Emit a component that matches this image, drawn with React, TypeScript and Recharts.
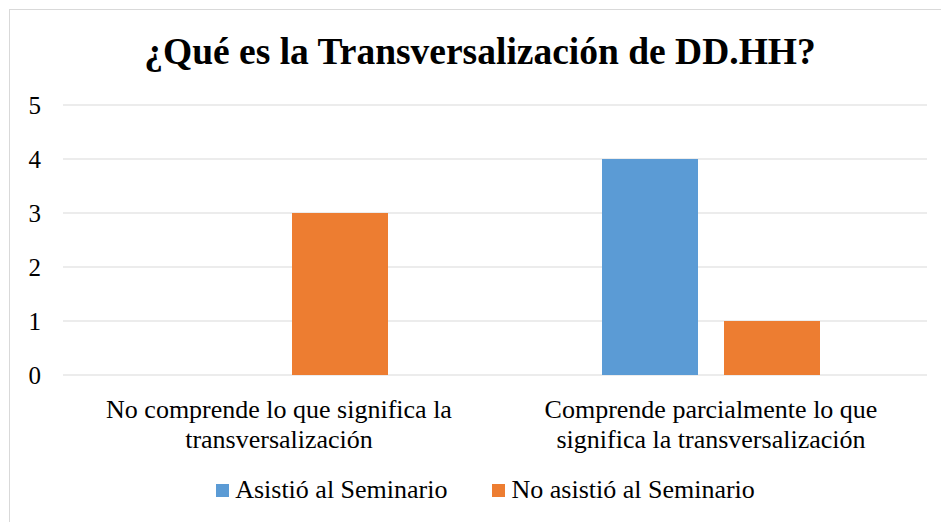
import { BarChart, Bar, XAxis, YAxis, CartesianGrid } from "recharts";

const categories = [
  "No comprende lo que significa la transversalización",
  "Comprende parcialmente lo que significa la transversalización",
];
const categoryLines = [
  ["No comprende lo que significa la", "transversalización"],
  ["Comprende parcialmente lo que", "significa la transversalización"],
];
const asistio = [0, 4];
const noAsistio = [3, 1];
const yTicks = [0, 1, 2, 3, 4, 5];

const seriesNames = ["Asistió al Seminario", "No asistió al Seminario"];
const colors = ["#5B9BD5", "#ED7D31"];

const data = categories.map((c, i) => ({
  name: c,
  asistio: asistio[i],
  noAsistio: noAsistio[i],
}));

const FONT = '"Liberation Serif", "Times New Roman", serif';

function CategoryTick(props: any) {
  const { x, y, index } = props;
  const lines = categoryLines[index] || [];
  return (
    <text x={x} y={y} textAnchor="middle" fill="#000" fontSize={26} fontFamily={FONT}>
      {lines.map((l, i) => (
        <tspan key={i} x={x} y={y + 41 + i * 30}>
          {l}
        </tspan>
      ))}
    </text>
  );
}

function ChartLegend() {
  return (
    <div
      style={{
        position: "absolute",
        left: 0,
        top: 475,
        width: 971,
        display: "flex",
        justifyContent: "center",
        alignItems: "center",
        fontFamily: FONT,
        fontSize: 26,
        lineHeight: "30px",
        color: "#000",
      }}
    >
      {seriesNames.map((n, i) => (
        <div key={n} style={{ display: "flex", alignItems: "center", marginLeft: i ? 45 : 0 }}>
          <span style={{ width: 13, height: 13, background: colors[i], display: "inline-block", marginRight: 6 }} />
          <span>{n}</span>
        </div>
      ))}
    </div>
  );
}

export default function App() {
  return (
    <div style={{ position: "absolute", left: 0, top: 0, width: 941, height: 522, overflow: "hidden", background: "#fff" }}>
      <div style={{ position: "absolute", left: 9, top: 9, width: 960, height: 540, border: "1px solid #d9d9d9" }} />
      <div
        style={{
          position: "absolute",
          left: 0,
          top: 30,
          width: 960,
          textAlign: "center",
          fontFamily: FONT,
          fontWeight: "bold",
          fontSize: 37.5,
          lineHeight: "44px",
          color: "#000",
        }}
      >
        ¿Qué es la Transversalización de DD.HH?
      </div>
      <div style={{ position: "absolute", left: 0, top: 0 }}>
        <BarChart
          width={941}
          height={522}
          data={data}
          margin={{ top: 105, right: 14, bottom: 0, left: 0 }}
          barGap={26}
        >
          <CartesianGrid vertical={false} stroke="#d9d9d9" strokeWidth={1} />
          <XAxis dataKey="name" axisLine={false} tickLine={false} tickSize={0} interval={0} height={147} tick={<CategoryTick />} />
          <YAxis
            domain={[0, 5]}
            ticks={yTicks}
            interval={0}
            width={63}
            axisLine={false}
            tickLine={false}
            tickSize={0}
            tickMargin={22}
            tick={{ fontSize: 25, fontFamily: FONT, fill: "#000" }}
          />
          <Bar dataKey="asistio" name={seriesNames[0]} fill={colors[0]} barSize={96} isAnimationActive={false} />
          <Bar dataKey="noAsistio" name={seriesNames[1]} fill={colors[1]} barSize={96} isAnimationActive={false} />
        </BarChart>
      </div>
      <ChartLegend />
    </div>
  );
}
